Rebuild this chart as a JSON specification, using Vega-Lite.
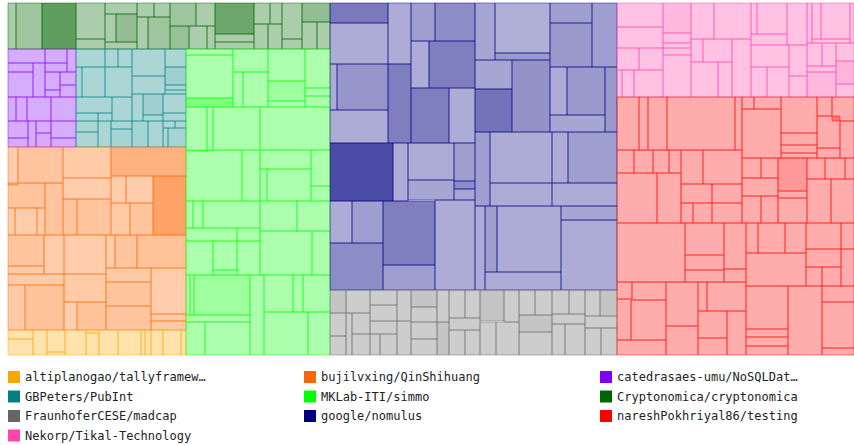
{
  "$schema": "https://vega.github.io/schema/vega-lite/v6.json",
  "width": 846,
  "height": 352,
  "autosize": "none",
  "padding": {"left": 8, "top": 3, "right": 0, "bottom": 90},
  "config": {"view": {"stroke": null}},
  "datasets": {
    "repos": [
      {"g": "A", "repo": "altiplanogao/tallyframework"},
      {"g": "O", "repo": "bujilvxing/QinShihuang"},
      {"g": "P", "repo": "catedrasaes-umu/NoSQLDataEngineering"},
      {"g": "T", "repo": "GBPeters/PubInt"},
      {"g": "G", "repo": "MKLab-ITI/simmo"},
      {"g": "C", "repo": "Cryptonomica/cryptonomica"},
      {"g": "F", "repo": "FraunhoferCESE/madcap"},
      {"g": "N", "repo": "google/nomulus"},
      {"g": "R", "repo": "nareshPokhriyal86/testing"},
      {"g": "K", "repo": "Nekorp/Tikal-Technology"}
    ],
    "cells": [
      {"g":"C","x":0,"x2":8,"y":0,"y2":46,"v":0.5},
      {"g":"C","x":8,"x2":34,"y":0,"y2":46,"v":1.5},
      {"g":"C","x":34,"x2":68,"y":0,"y2":46,"v":6.5},
      {"g":"C","x":68,"x2":97,"y":0,"y2":36,"v":0.5},
      {"g":"C","x":68,"x2":97,"y":36,"y2":46,"v":0.5},
      {"g":"C","x":97,"x2":129,"y":0,"y2":11,"v":0.5},
      {"g":"C","x":97,"x2":108,"y":11,"y2":39,"v":0.5},
      {"g":"C","x":108,"x2":129,"y":11,"y2":39,"v":2.5},
      {"g":"C","x":97,"x2":129,"y":39,"y2":46,"v":0.5},
      {"g":"C","x":129,"x2":146,"y":0,"y2":14,"v":0.5},
      {"g":"C","x":146,"x2":162,"y":0,"y2":14,"v":0.5},
      {"g":"C","x":129,"x2":140,"y":14,"y2":46,"v":0.5},
      {"g":"C","x":140,"x2":162,"y":14,"y2":46,"v":1.5},
      {"g":"C","x":162,"x2":188,"y":0,"y2":23,"v":1.5},
      {"g":"C","x":188,"x2":207,"y":0,"y2":23,"v":0.5},
      {"g":"C","x":162,"x2":181,"y":23,"y2":46,"v":2},
      {"g":"C","x":181,"x2":199,"y":23,"y2":46,"v":0.5},
      {"g":"C","x":199,"x2":207,"y":23,"y2":46,"v":0.5},
      {"g":"C","x":207,"x2":246,"y":0,"y2":31,"v":5.5},
      {"g":"C","x":207,"x2":246,"y":31,"y2":39,"v":0.5},
      {"g":"C","x":207,"x2":246,"y":39,"y2":46,"v":0.5},
      {"g":"C","x":246,"x2":262,"y":0,"y2":21,"v":0.5},
      {"g":"C","x":262,"x2":274,"y":0,"y2":21,"v":0.5},
      {"g":"C","x":246,"x2":260,"y":21,"y2":46,"v":0.5},
      {"g":"C","x":260,"x2":274,"y":21,"y2":46,"v":0.5},
      {"g":"C","x":274,"x2":294,"y":0,"y2":36,"v":0.5},
      {"g":"C","x":274,"x2":294,"y":36,"y2":46,"v":0.5},
      {"g":"C","x":294,"x2":322,"y":0,"y2":19,"v":2.5},
      {"g":"C","x":294,"x2":309,"y":19,"y2":46,"v":0.5},
      {"g":"C","x":309,"x2":322,"y":19,"y2":46,"v":0.5},

      {"g":"P","x":0,"x2":37,"y":46,"y2":60,"v":0.5},
      {"g":"P","x":37,"x2":59,"y":46,"y2":60,"v":0.5},
      {"g":"P","x":59,"x2":68,"y":46,"y2":69,"v":0.5},
      {"g":"P","x":0,"x2":25,"y":60,"y2":69,"v":0.5},
      {"g":"P","x":37,"x2":59,"y":60,"y2":69,"v":0.5},
      {"g":"P","x":0,"x2":25,"y":69,"y2":94,"v":0.5},
      {"g":"P","x":25,"x2":37,"y":60,"y2":94,"v":0.5},
      {"g":"P","x":37,"x2":52,"y":69,"y2":87,"v":0.5},
      {"g":"P","x":52,"x2":68,"y":69,"y2":82,"v":0.5},
      {"g":"P","x":52,"x2":68,"y":82,"y2":94,"v":0.5},
      {"g":"P","x":37,"x2":52,"y":87,"y2":94,"v":0.5},
      {"g":"P","x":0,"x2":8,"y":94,"y2":118,"v":0.5},
      {"g":"P","x":8,"x2":19,"y":94,"y2":118,"v":0.5},
      {"g":"P","x":19,"x2":43,"y":94,"y2":118,"v":0.5},
      {"g":"P","x":43,"x2":68,"y":94,"y2":118,"v":0.5},
      {"g":"P","x":0,"x2":20,"y":118,"y2":135,"v":0.5},
      {"g":"P","x":0,"x2":20,"y":135,"y2":144,"v":0.5},
      {"g":"P","x":20,"x2":28,"y":118,"y2":144,"v":0.5},
      {"g":"P","x":28,"x2":43,"y":118,"y2":130,"v":0.5},
      {"g":"P","x":28,"x2":43,"y":130,"y2":144,"v":0.5},
      {"g":"P","x":43,"x2":68,"y":118,"y2":135,"v":0.5},
      {"g":"P","x":43,"x2":68,"y":135,"y2":144,"v":0.5},

      {"g":"T","x":68,"x2":97,"y":46,"y2":64,"v":0.5},
      {"g":"T","x":68,"x2":74,"y":64,"y2":94,"v":0.5},
      {"g":"T","x":74,"x2":97,"y":64,"y2":94,"v":0.5},
      {"g":"T","x":97,"x2":110,"y":46,"y2":64,"v":0.5},
      {"g":"T","x":110,"x2":124,"y":46,"y2":64,"v":0.5},
      {"g":"T","x":97,"x2":124,"y":64,"y2":94,"v":0.5},
      {"g":"T","x":124,"x2":157,"y":46,"y2":73,"v":0.5},
      {"g":"T","x":124,"x2":157,"y":73,"y2":91,"v":0.5},
      {"g":"T","x":157,"x2":178,"y":46,"y2":64,"v":0.5},
      {"g":"T","x":157,"x2":178,"y":64,"y2":82,"v":1.5},
      {"g":"T","x":157,"x2":178,"y":82,"y2":87,"v":0.5},
      {"g":"T","x":157,"x2":178,"y":87,"y2":91,"v":0.5},
      {"g":"T","x":68,"x2":104,"y":94,"y2":110,"v":0.5},
      {"g":"T","x":68,"x2":90,"y":110,"y2":118,"v":0.5},
      {"g":"T","x":90,"x2":104,"y":110,"y2":118,"v":0.5},
      {"g":"T","x":104,"x2":124,"y":94,"y2":118,"v":0.5},
      {"g":"T","x":124,"x2":135,"y":91,"y2":118,"v":0.5},
      {"g":"T","x":135,"x2":155,"y":91,"y2":112,"v":1.5},
      {"g":"T","x":135,"x2":155,"y":112,"y2":118,"v":0.5},
      {"g":"T","x":155,"x2":178,"y":91,"y2":110,"v":0.5},
      {"g":"T","x":155,"x2":178,"y":110,"y2":118,"v":0.5},
      {"g":"T","x":68,"x2":90,"y":118,"y2":129,"v":0.5},
      {"g":"T","x":68,"x2":90,"y":129,"y2":144,"v":0.5},
      {"g":"T","x":90,"x2":103,"y":118,"y2":144,"v":0.5},
      {"g":"T","x":103,"x2":124,"y":118,"y2":126,"v":0.5},
      {"g":"T","x":103,"x2":124,"y":126,"y2":144,"v":1},
      {"g":"T","x":124,"x2":140,"y":118,"y2":144,"v":1},
      {"g":"T","x":140,"x2":155,"y":118,"y2":144,"v":0.5},
      {"g":"T","x":155,"x2":167,"y":118,"y2":125,"v":0.5},
      {"g":"T","x":167,"x2":178,"y":118,"y2":125,"v":0.5},
      {"g":"T","x":155,"x2":160,"y":125,"y2":144,"v":0.5},
      {"g":"T","x":160,"x2":178,"y":125,"y2":144,"v":1},

      {"g":"O","x":0,"x2":10,"y":144,"y2":182,"v":0.5},
      {"g":"O","x":10,"x2":55,"y":144,"y2":180,"v":1.5},
      {"g":"O","x":55,"x2":103,"y":144,"y2":175,"v":1},
      {"g":"O","x":103,"x2":178,"y":144,"y2":173,"v":4},
      {"g":"O","x":0,"x2":37,"y":180,"y2":205,"v":1.5},
      {"g":"O","x":37,"x2":55,"y":180,"y2":232,"v":1.5},
      {"g":"O","x":55,"x2":103,"y":175,"y2":196,"v":0.5},
      {"g":"O","x":55,"x2":69,"y":196,"y2":232,"v":1.5},
      {"g":"O","x":69,"x2":103,"y":196,"y2":232,"v":1.5},
      {"g":"O","x":103,"x2":118,"y":173,"y2":200,"v":0.5},
      {"g":"O","x":118,"x2":145,"y":173,"y2":200,"v":0.5},
      {"g":"O","x":145,"x2":178,"y":173,"y2":232,"v":6},
      {"g":"O","x":103,"x2":122,"y":200,"y2":232,"v":1},
      {"g":"O","x":122,"x2":145,"y":200,"y2":232,"v":1.5},
      {"g":"O","x":0,"x2":7,"y":205,"y2":232,"v":0.5},
      {"g":"O","x":7,"x2":29,"y":205,"y2":232,"v":0.5},
      {"g":"O","x":29,"x2":37,"y":205,"y2":232,"v":0.5},
      {"g":"O","x":0,"x2":36,"y":232,"y2":263,"v":1.5},
      {"g":"O","x":0,"x2":36,"y":263,"y2":271,"v":1},
      {"g":"O","x":36,"x2":56,"y":232,"y2":271,"v":0.5},
      {"g":"O","x":0,"x2":56,"y":271,"y2":282,"v":1},
      {"g":"O","x":0,"x2":17,"y":282,"y2":327,"v":1},
      {"g":"O","x":17,"x2":56,"y":282,"y2":327,"v":2},
      {"g":"O","x":56,"x2":98,"y":232,"y2":271,"v":0.5},
      {"g":"O","x":56,"x2":98,"y":271,"y2":299,"v":1},
      {"g":"O","x":56,"x2":69,"y":299,"y2":327,"v":0.3},
      {"g":"O","x":69,"x2":98,"y":299,"y2":327,"v":2},
      {"g":"O","x":98,"x2":107,"y":232,"y2":265,"v":0.5},
      {"g":"O","x":107,"x2":129,"y":232,"y2":265,"v":1.5},
      {"g":"O","x":129,"x2":178,"y":232,"y2":265,"v":2},
      {"g":"O","x":98,"x2":143,"y":265,"y2":279,"v":1},
      {"g":"O","x":98,"x2":143,"y":279,"y2":303,"v":1.5},
      {"g":"O","x":98,"x2":143,"y":303,"y2":327,"v":1.5},
      {"g":"O","x":143,"x2":178,"y":265,"y2":311,"v":0.5},
      {"g":"O","x":143,"x2":178,"y":311,"y2":318,"v":1},
      {"g":"O","x":143,"x2":178,"y":318,"y2":327,"v":1},

      {"g":"A","x":0,"x2":25,"y":327,"y2":336,"v":0.5},
      {"g":"A","x":0,"x2":25,"y":336,"y2":352,"v":0.5},
      {"g":"A","x":25,"x2":39,"y":327,"y2":352,"v":0.5},
      {"g":"A","x":39,"x2":57,"y":327,"y2":349,"v":0.5},
      {"g":"A","x":39,"x2":57,"y":349,"y2":352,"v":0.5},
      {"g":"A","x":57,"x2":78,"y":327,"y2":352,"v":0.5},
      {"g":"A","x":78,"x2":91,"y":327,"y2":330,"v":0.5},
      {"g":"A","x":78,"x2":91,"y":330,"y2":352,"v":0.5},
      {"g":"A","x":91,"x2":110,"y":327,"y2":352,"v":0.5},
      {"g":"A","x":110,"x2":133,"y":327,"y2":352,"v":0.5},
      {"g":"A","x":133,"x2":137,"y":327,"y2":352,"v":0.5},
      {"g":"A","x":137,"x2":143,"y":327,"y2":352,"v":0.5},
      {"g":"A","x":143,"x2":155,"y":327,"y2":352,"v":0.5},
      {"g":"A","x":155,"x2":173,"y":327,"y2":352,"v":0.5},
      {"g":"A","x":173,"x2":178,"y":327,"y2":352,"v":0.5},

      {"g":"G","x":178,"x2":225,"y":46,"y2":52,"v":0.5},
      {"g":"G","x":178,"x2":225,"y":52,"y2":95,"v":0.5},
      {"g":"G","x":178,"x2":225,"y":95,"y2":104,"v":4},
      {"g":"G","x":225,"x2":260,"y":46,"y2":69,"v":0.5},
      {"g":"G","x":225,"x2":235,"y":69,"y2":104,"v":0.5},
      {"g":"G","x":235,"x2":260,"y":69,"y2":104,"v":0.5},
      {"g":"G","x":260,"x2":297,"y":46,"y2":78,"v":0.5},
      {"g":"G","x":260,"x2":297,"y":78,"y2":98,"v":1.5},
      {"g":"G","x":260,"x2":297,"y":98,"y2":104,"v":0.5},
      {"g":"G","x":297,"x2":322,"y":46,"y2":85,"v":0.5},
      {"g":"G","x":297,"x2":322,"y":85,"y2":93,"v":0.5},
      {"g":"G","x":297,"x2":322,"y":93,"y2":104,"v":0.5},
      {"g":"G","x":178,"x2":199,"y":104,"y2":148,"v":0.5},
      {"g":"G","x":199,"x2":205,"y":104,"y2":148,"v":0.5},
      {"g":"G","x":205,"x2":252,"y":104,"y2":147,"v":0.5},
      {"g":"G","x":252,"x2":322,"y":104,"y2":147,"v":0.5},
      {"g":"G","x":178,"x2":234,"y":147,"y2":198,"v":0.5},
      {"g":"G","x":234,"x2":252,"y":147,"y2":198,"v":0.5},
      {"g":"G","x":252,"x2":303,"y":147,"y2":166,"v":0.5},
      {"g":"G","x":252,"x2":259,"y":166,"y2":198,"v":0.5},
      {"g":"G","x":259,"x2":303,"y":166,"y2":198,"v":0.5},
      {"g":"G","x":303,"x2":322,"y":147,"y2":183,"v":0.5},
      {"g":"G","x":303,"x2":322,"y":183,"y2":198,"v":0.5},
      {"g":"G","x":178,"x2":185,"y":198,"y2":225,"v":0.5},
      {"g":"G","x":185,"x2":195,"y":198,"y2":225,"v":0.5},
      {"g":"G","x":195,"x2":252,"y":198,"y2":225,"v":0.5},
      {"g":"G","x":178,"x2":229,"y":225,"y2":238,"v":0.5},
      {"g":"G","x":229,"x2":252,"y":225,"y2":238,"v":0.5},
      {"g":"G","x":252,"x2":289,"y":198,"y2":228,"v":0.5},
      {"g":"G","x":289,"x2":322,"y":198,"y2":228,"v":0.5},
      {"g":"G","x":252,"x2":304,"y":228,"y2":272,"v":0.5},
      {"g":"G","x":304,"x2":322,"y":228,"y2":272,"v":0.5},
      {"g":"G","x":178,"x2":205,"y":238,"y2":272,"v":0.5},
      {"g":"G","x":205,"x2":229,"y":238,"y2":267,"v":0.5},
      {"g":"G","x":205,"x2":229,"y":267,"y2":272,"v":0.5},
      {"g":"G","x":229,"x2":252,"y":238,"y2":272,"v":0.5},
      {"g":"G","x":178,"x2":182,"y":272,"y2":312,"v":0.5},
      {"g":"G","x":182,"x2":186,"y":272,"y2":312,"v":0.5},
      {"g":"G","x":186,"x2":242,"y":272,"y2":312,"v":1.5},
      {"g":"G","x":242,"x2":256,"y":272,"y2":352,"v":0.5},
      {"g":"G","x":256,"x2":285,"y":272,"y2":309,"v":0.5},
      {"g":"G","x":285,"x2":295,"y":272,"y2":309,"v":0.5},
      {"g":"G","x":295,"x2":322,"y":272,"y2":309,"v":0.5},
      {"g":"G","x":178,"x2":242,"y":312,"y2":319,"v":0.5},
      {"g":"G","x":178,"x2":197,"y":319,"y2":352,"v":0.5},
      {"g":"G","x":197,"x2":242,"y":319,"y2":352,"v":0.5},
      {"g":"G","x":256,"x2":300,"y":309,"y2":352,"v":0.5},
      {"g":"G","x":300,"x2":322,"y":309,"y2":352,"v":0.5},

      {"g":"N","x":322,"x2":380,"y":0,"y2":20,"v":4.5},
      {"g":"N","x":322,"x2":380,"y":20,"y2":61,"v":0.5},
      {"g":"N","x":322,"x2":329,"y":61,"y2":107,"v":0.5},
      {"g":"N","x":329,"x2":380,"y":61,"y2":107,"v":2.2},
      {"g":"N","x":322,"x2":380,"y":107,"y2":140,"v":0.5},
      {"g":"N","x":380,"x2":403,"y":0,"y2":61,"v":0.5},
      {"g":"N","x":380,"x2":403,"y":61,"y2":140,"v":4},
      {"g":"N","x":403,"x2":427,"y":0,"y2":38,"v":1.5},
      {"g":"N","x":427,"x2":467,"y":0,"y2":38,"v":3},
      {"g":"N","x":403,"x2":421,"y":38,"y2":85,"v":0.5},
      {"g":"N","x":421,"x2":467,"y":38,"y2":85,"v":4},
      {"g":"N","x":403,"x2":441,"y":85,"y2":140,"v":4},
      {"g":"N","x":441,"x2":467,"y":85,"y2":140,"v":0.5},
      {"g":"N","x":467,"x2":487,"y":0,"y2":57,"v":1},
      {"g":"N","x":487,"x2":542,"y":0,"y2":50,"v":0.3},
      {"g":"N","x":487,"x2":542,"y":50,"y2":57,"v":2},
      {"g":"N","x":467,"x2":504,"y":57,"y2":86,"v":1},
      {"g":"N","x":467,"x2":504,"y":86,"y2":129,"v":5},
      {"g":"N","x":504,"x2":542,"y":57,"y2":129,"v":2.5},
      {"g":"N","x":542,"x2":584,"y":0,"y2":20,"v":1.5},
      {"g":"N","x":542,"x2":584,"y":20,"y2":64,"v":2},
      {"g":"N","x":584,"x2":609,"y":0,"y2":64,"v":1.5},
      {"g":"N","x":542,"x2":559,"y":64,"y2":112,"v":0.5},
      {"g":"N","x":559,"x2":597,"y":64,"y2":112,"v":2},
      {"g":"N","x":597,"x2":609,"y":64,"y2":129,"v":2},
      {"g":"N","x":542,"x2":597,"y":112,"y2":129,"v":1},
      {"g":"N","x":322,"x2":385,"y":140,"y2":198,"v":8},
      {"g":"N","x":385,"x2":400,"y":140,"y2":198,"v":0.5},
      {"g":"N","x":400,"x2":446,"y":140,"y2":177,"v":0.5},
      {"g":"N","x":400,"x2":446,"y":177,"y2":197,"v":1},
      {"g":"N","x":446,"x2":467,"y":140,"y2":178,"v":1.5},
      {"g":"N","x":446,"x2":467,"y":178,"y2":186,"v":3},
      {"g":"N","x":446,"x2":467,"y":186,"y2":197,"v":1},
      {"g":"N","x":322,"x2":344,"y":198,"y2":240,"v":0.5},
      {"g":"N","x":344,"x2":375,"y":198,"y2":240,"v":1.5},
      {"g":"N","x":322,"x2":375,"y":240,"y2":287,"v":3},
      {"g":"N","x":375,"x2":427,"y":198,"y2":262,"v":4},
      {"g":"N","x":375,"x2":427,"y":262,"y2":287,"v":1.5},
      {"g":"N","x":427,"x2":467,"y":197,"y2":287,"v":0.5},
      {"g":"N","x":467,"x2":482,"y":129,"y2":203,"v":1.5},
      {"g":"N","x":482,"x2":544,"y":129,"y2":180,"v":0.5},
      {"g":"N","x":544,"x2":560,"y":129,"y2":180,"v":0.5},
      {"g":"N","x":560,"x2":609,"y":129,"y2":180,"v":1.5},
      {"g":"N","x":482,"x2":544,"y":180,"y2":203,"v":0.5},
      {"g":"N","x":544,"x2":609,"y":180,"y2":203,"v":0.5},
      {"g":"N","x":467,"x2":477,"y":203,"y2":287,"v":0.5},
      {"g":"N","x":477,"x2":489,"y":203,"y2":269,"v":1.5},
      {"g":"N","x":489,"x2":553,"y":203,"y2":269,"v":0.5},
      {"g":"N","x":477,"x2":553,"y":269,"y2":287,"v":0.5},
      {"g":"N","x":553,"x2":609,"y":203,"y2":217,"v":1},
      {"g":"N","x":553,"x2":609,"y":217,"y2":287,"v":0.5},

      {"g":"F","x":322,"x2":338,"y":287,"y2":310,"v":1.5},
      {"g":"F","x":322,"x2":338,"y":310,"y2":333,"v":0.5},
      {"g":"F","x":322,"x2":338,"y":333,"y2":352,"v":0.5},
      {"g":"F","x":338,"x2":362,"y":287,"y2":310,"v":0.5},
      {"g":"F","x":338,"x2":344,"y":310,"y2":352,"v":0.5},
      {"g":"F","x":344,"x2":362,"y":310,"y2":331,"v":0.5},
      {"g":"F","x":344,"x2":362,"y":331,"y2":352,"v":0.5},
      {"g":"F","x":362,"x2":389,"y":287,"y2":302,"v":0.5},
      {"g":"F","x":362,"x2":389,"y":302,"y2":318,"v":0.5},
      {"g":"F","x":362,"x2":389,"y":318,"y2":331,"v":0.5},
      {"g":"F","x":362,"x2":372,"y":331,"y2":352,"v":0.5},
      {"g":"F","x":372,"x2":389,"y":331,"y2":352,"v":0.5},
      {"g":"F","x":389,"x2":403,"y":287,"y2":318,"v":0.5},
      {"g":"F","x":389,"x2":403,"y":318,"y2":352,"v":0.5},
      {"g":"F","x":403,"x2":429,"y":287,"y2":304,"v":1.5},
      {"g":"F","x":403,"x2":429,"y":304,"y2":319,"v":0.5},
      {"g":"F","x":403,"x2":429,"y":319,"y2":336,"v":0.5},
      {"g":"F","x":403,"x2":429,"y":336,"y2":352,"v":0.5},
      {"g":"F","x":429,"x2":441,"y":287,"y2":319,"v":0.5},
      {"g":"F","x":429,"x2":441,"y":319,"y2":352,"v":1.5},
      {"g":"F","x":441,"x2":457,"y":287,"y2":315,"v":0.5},
      {"g":"F","x":457,"x2":472,"y":287,"y2":315,"v":0.5},
      {"g":"F","x":441,"x2":472,"y":315,"y2":327,"v":0.5},
      {"g":"F","x":441,"x2":457,"y":327,"y2":352,"v":0.5},
      {"g":"F","x":457,"x2":472,"y":327,"y2":352,"v":0.5},
      {"g":"F","x":472,"x2":496,"y":287,"y2":318,"v":1.5},
      {"g":"F","x":496,"x2":511,"y":287,"y2":319,"v":0.5},
      {"g":"F","x":472,"x2":488,"y":319,"y2":352,"v":0.5},
      {"g":"F","x":488,"x2":511,"y":319,"y2":352,"v":0.5},
      {"g":"F","x":511,"x2":527,"y":287,"y2":312,"v":0.5},
      {"g":"F","x":527,"x2":544,"y":287,"y2":312,"v":0.5},
      {"g":"F","x":511,"x2":544,"y":312,"y2":329,"v":1.5},
      {"g":"F","x":511,"x2":544,"y":329,"y2":352,"v":0.5},
      {"g":"F","x":544,"x2":561,"y":287,"y2":311,"v":0.5},
      {"g":"F","x":561,"x2":577,"y":287,"y2":311,"v":0.5},
      {"g":"F","x":544,"x2":577,"y":311,"y2":321,"v":0.5},
      {"g":"F","x":544,"x2":557,"y":321,"y2":352,"v":0.5},
      {"g":"F","x":557,"x2":577,"y":321,"y2":352,"v":0.5},
      {"g":"F","x":577,"x2":592,"y":287,"y2":313,"v":0.5},
      {"g":"F","x":592,"x2":609,"y":287,"y2":313,"v":1.5},
      {"g":"F","x":577,"x2":609,"y":313,"y2":325,"v":0.5},
      {"g":"F","x":577,"x2":593,"y":325,"y2":352,"v":0.5},
      {"g":"F","x":593,"x2":609,"y":325,"y2":352,"v":0.5},

      {"g":"K","x":609,"x2":655,"y":0,"y2":24,"v":0.5},
      {"g":"K","x":609,"x2":655,"y":24,"y2":45,"v":0.5},
      {"g":"K","x":609,"x2":631,"y":45,"y2":67,"v":0.5},
      {"g":"K","x":631,"x2":655,"y":45,"y2":67,"v":0.5},
      {"g":"K","x":609,"x2":614,"y":67,"y2":94,"v":0.5},
      {"g":"K","x":614,"x2":626,"y":67,"y2":94,"v":0.5},
      {"g":"K","x":626,"x2":655,"y":67,"y2":94,"v":0.5},
      {"g":"K","x":655,"x2":683,"y":0,"y2":30,"v":1.5},
      {"g":"K","x":655,"x2":683,"y":30,"y2":40,"v":0.5},
      {"g":"K","x":655,"x2":683,"y":40,"y2":45,"v":0.5},
      {"g":"K","x":655,"x2":683,"y":45,"y2":52,"v":0.5},
      {"g":"K","x":655,"x2":683,"y":52,"y2":94,"v":0.5},
      {"g":"K","x":683,"x2":706,"y":0,"y2":36,"v":0.5},
      {"g":"K","x":706,"x2":743,"y":0,"y2":36,"v":0.5},
      {"g":"K","x":683,"x2":695,"y":36,"y2":59,"v":0.5},
      {"g":"K","x":695,"x2":724,"y":36,"y2":59,"v":0.5},
      {"g":"K","x":683,"x2":710,"y":59,"y2":94,"v":0.5},
      {"g":"K","x":710,"x2":724,"y":59,"y2":94,"v":0.5},
      {"g":"K","x":724,"x2":743,"y":36,"y2":94,"v":0.5},
      {"g":"K","x":743,"x2":749,"y":0,"y2":31,"v":0.5},
      {"g":"K","x":749,"x2":779,"y":0,"y2":31,"v":0.5},
      {"g":"K","x":743,"x2":779,"y":31,"y2":42,"v":0.5},
      {"g":"K","x":743,"x2":781,"y":42,"y2":64,"v":0.5},
      {"g":"K","x":743,"x2":759,"y":64,"y2":94,"v":0.5},
      {"g":"K","x":759,"x2":781,"y":64,"y2":94,"v":0.5},
      {"g":"K","x":779,"x2":799,"y":0,"y2":42,"v":0.5},
      {"g":"K","x":781,"x2":799,"y":42,"y2":73,"v":0.5},
      {"g":"K","x":781,"x2":799,"y":73,"y2":94,"v":0.5},
      {"g":"K","x":799,"x2":804,"y":0,"y2":40,"v":0.5},
      {"g":"K","x":804,"x2":813,"y":0,"y2":36,"v":0.5},
      {"g":"K","x":813,"x2":842,"y":0,"y2":36,"v":0.5},
      {"g":"K","x":804,"x2":842,"y":36,"y2":40,"v":0.5},
      {"g":"K","x":842,"x2":846,"y":0,"y2":40,"v":0.5},
      {"g":"K","x":799,"x2":814,"y":40,"y2":63,"v":0.5},
      {"g":"K","x":814,"x2":828,"y":40,"y2":63,"v":0.5},
      {"g":"K","x":799,"x2":828,"y":63,"y2":69,"v":0.5},
      {"g":"K","x":799,"x2":828,"y":69,"y2":94,"v":1.5},
      {"g":"K","x":828,"x2":846,"y":40,"y2":58,"v":0.5},
      {"g":"K","x":828,"x2":846,"y":58,"y2":81,"v":2},
      {"g":"K","x":828,"x2":846,"y":81,"y2":94,"v":0.5},

      {"g":"R","x":609,"x2":631,"y":94,"y2":147,"v":0.5},
      {"g":"R","x":631,"x2":640,"y":94,"y2":147,"v":0.5},
      {"g":"R","x":640,"x2":659,"y":94,"y2":147,"v":0.5},
      {"g":"R","x":659,"x2":727,"y":94,"y2":147,"v":0.5},
      {"g":"R","x":727,"x2":734,"y":94,"y2":147,"v":0.5},
      {"g":"R","x":734,"x2":746,"y":94,"y2":106,"v":0.5},
      {"g":"R","x":746,"x2":773,"y":94,"y2":106,"v":0.5},
      {"g":"R","x":734,"x2":773,"y":106,"y2":155,"v":0.5},
      {"g":"R","x":773,"x2":809,"y":94,"y2":130,"v":0.5},
      {"g":"R","x":773,"x2":809,"y":130,"y2":142,"v":0.5},
      {"g":"R","x":773,"x2":809,"y":142,"y2":150,"v":0.5},
      {"g":"R","x":773,"x2":809,"y":150,"y2":155,"v":0.5},
      {"g":"R","x":809,"x2":824,"y":94,"y2":113,"v":0.5},
      {"g":"R","x":824,"x2":846,"y":94,"y2":118,"v":0.5},
      {"g":"R","x":809,"x2":832,"y":113,"y2":145,"v":0.5},
      {"g":"R","x":809,"x2":832,"y":145,"y2":155,"v":0.5},
      {"g":"R","x":832,"x2":846,"y":118,"y2":155,"v":0.5},
      {"g":"R","x":609,"x2":626,"y":147,"y2":170,"v":0.5},
      {"g":"R","x":626,"x2":645,"y":147,"y2":170,"v":0.5},
      {"g":"R","x":645,"x2":661,"y":147,"y2":170,"v":0.5},
      {"g":"R","x":661,"x2":673,"y":147,"y2":170,"v":0.5},
      {"g":"R","x":673,"x2":695,"y":147,"y2":181,"v":0.5},
      {"g":"R","x":695,"x2":734,"y":147,"y2":181,"v":0.5},
      {"g":"R","x":609,"x2":649,"y":170,"y2":220,"v":0.5},
      {"g":"R","x":649,"x2":673,"y":170,"y2":220,"v":0.5},
      {"g":"R","x":673,"x2":704,"y":181,"y2":200,"v":0.5},
      {"g":"R","x":704,"x2":734,"y":181,"y2":200,"v":0.5},
      {"g":"R","x":673,"x2":685,"y":200,"y2":220,"v":0.5},
      {"g":"R","x":685,"x2":704,"y":200,"y2":220,"v":0.5},
      {"g":"R","x":704,"x2":734,"y":200,"y2":220,"v":0.5},
      {"g":"R","x":734,"x2":753,"y":155,"y2":175,"v":0.5},
      {"g":"R","x":753,"x2":770,"y":155,"y2":175,"v":0.5},
      {"g":"R","x":734,"x2":770,"y":175,"y2":193,"v":0.5},
      {"g":"R","x":734,"x2":753,"y":193,"y2":220,"v":0.5},
      {"g":"R","x":753,"x2":770,"y":193,"y2":220,"v":0.5},
      {"g":"R","x":770,"x2":799,"y":155,"y2":188,"v":2},
      {"g":"R","x":770,"x2":799,"y":188,"y2":195,"v":0.5},
      {"g":"R","x":770,"x2":799,"y":195,"y2":220,"v":0.5},
      {"g":"R","x":799,"x2":817,"y":155,"y2":176,"v":0.5},
      {"g":"R","x":817,"x2":837,"y":155,"y2":176,"v":0.5},
      {"g":"R","x":837,"x2":846,"y":155,"y2":176,"v":0.5},
      {"g":"R","x":799,"x2":823,"y":176,"y2":220,"v":0.5},
      {"g":"R","x":823,"x2":846,"y":176,"y2":220,"v":0.5},
      {"g":"R","x":609,"x2":677,"y":220,"y2":279,"v":0.5},
      {"g":"R","x":677,"x2":716,"y":220,"y2":252,"v":0.5},
      {"g":"R","x":677,"x2":716,"y":252,"y2":267,"v":0.5},
      {"g":"R","x":677,"x2":716,"y":267,"y2":279,"v":0.5},
      {"g":"R","x":716,"x2":738,"y":220,"y2":266,"v":0.5},
      {"g":"R","x":716,"x2":738,"y":266,"y2":279,"v":0.5},
      {"g":"R","x":738,"x2":750,"y":220,"y2":250,"v":0.5},
      {"g":"R","x":750,"x2":777,"y":220,"y2":250,"v":0.5},
      {"g":"R","x":777,"x2":798,"y":220,"y2":250,"v":0.5},
      {"g":"R","x":738,"x2":798,"y":250,"y2":283,"v":0.5},
      {"g":"R","x":798,"x2":833,"y":220,"y2":246,"v":0.5},
      {"g":"R","x":833,"x2":846,"y":220,"y2":246,"v":0.5},
      {"g":"R","x":798,"x2":833,"y":246,"y2":264,"v":0.5},
      {"g":"R","x":833,"x2":846,"y":246,"y2":283,"v":0.5},
      {"g":"R","x":798,"x2":814,"y":264,"y2":283,"v":0.5},
      {"g":"R","x":814,"x2":833,"y":264,"y2":283,"v":0.5},
      {"g":"R","x":609,"x2":624,"y":279,"y2":296,"v":0.5},
      {"g":"R","x":624,"x2":658,"y":279,"y2":297,"v":0.5},
      {"g":"R","x":609,"x2":623,"y":296,"y2":337,"v":0.5},
      {"g":"R","x":623,"x2":658,"y":297,"y2":337,"v":0.5},
      {"g":"R","x":609,"x2":658,"y":337,"y2":352,"v":0.5},
      {"g":"R","x":658,"x2":690,"y":279,"y2":323,"v":0.5},
      {"g":"R","x":658,"x2":690,"y":323,"y2":352,"v":0.5},
      {"g":"R","x":690,"x2":699,"y":279,"y2":308,"v":0.5},
      {"g":"R","x":699,"x2":738,"y":279,"y2":308,"v":0.5},
      {"g":"R","x":690,"x2":719,"y":308,"y2":335,"v":0.5},
      {"g":"R","x":690,"x2":719,"y":335,"y2":352,"v":0.5},
      {"g":"R","x":719,"x2":738,"y":308,"y2":352,"v":0.5},
      {"g":"R","x":738,"x2":780,"y":283,"y2":326,"v":0.5},
      {"g":"R","x":738,"x2":780,"y":326,"y2":334,"v":0.5},
      {"g":"R","x":738,"x2":780,"y":334,"y2":343,"v":0.5},
      {"g":"R","x":738,"x2":780,"y":343,"y2":352,"v":0.5},
      {"g":"R","x":780,"x2":814,"y":283,"y2":352,"v":0.5},
      {"g":"R","x":814,"x2":846,"y":283,"y2":299,"v":0.5},
      {"g":"R","x":814,"x2":846,"y":299,"y2":345,"v":0.5},
      {"g":"R","x":814,"x2":846,"y":345,"y2":352,"v":0.5}
    ]
  },
  "data": {"name": "cells"},
  "transform": [
    {"lookup": "g", "from": {"data": {"name": "repos"}, "key": "g", "fields": ["repo"]}}
  ],
  "mark": {"type": "rect", "strokeWidth": 1, "strokeOpacity": 0.45},
  "encoding": {
    "x": {"field": "x", "type": "quantitative", "scale": {"domain": [0, 846], "nice": false, "zero": false}, "axis": null},
    "x2": {"field": "x2"},
    "y": {"field": "y", "type": "quantitative", "scale": {"domain": [0, 352], "nice": false, "zero": false, "reverse": true}, "axis": null},
    "y2": {"field": "y2"},
    "fill": {
      "field": "repo",
      "type": "nominal",
      "scale": {
        "domain": ["altiplanogao/tallyframework", "bujilvxing/QinShihuang", "catedrasaes-umu/NoSQLDataEngineering", "GBPeters/PubInt", "MKLab-ITI/simmo", "Cryptonomica/cryptonomica", "FraunhoferCESE/madcap", "google/nomulus", "nareshPokhriyal86/testing", "Nekorp/Tikal-Technology"],
        "range": ["#ffa500", "#ff6600", "#8000ff", "#008080", "#00ff00", "#006400", "#666666", "#000080", "#ff0000", "#ff44aa"]
      },
      "legend": {
        "title": null,
        "orient": "bottom",
        "direction": "horizontal",
        "columns": 3,
        "gridAlign": "all",
        "columnPadding": 98,
        "rowPadding": 7.5,
        "offset": 16,
        "symbolType": "square",
        "symbolSize": 144,
        "symbolOpacity": 1,
        "symbolStrokeWidth": 0,
        "labelFont": "DejaVu Sans Mono",
        "labelFontSize": 12,
        "labelColor": "#222222",
        "labelLimit": 184,
        "labelOffset": 5
      }
    },
    "stroke": {
      "field": "repo",
      "type": "nominal",
      "scale": {
        "domain": ["altiplanogao/tallyframework", "bujilvxing/QinShihuang", "catedrasaes-umu/NoSQLDataEngineering", "GBPeters/PubInt", "MKLab-ITI/simmo", "Cryptonomica/cryptonomica", "FraunhoferCESE/madcap", "google/nomulus", "nareshPokhriyal86/testing", "Nekorp/Tikal-Technology"],
        "range": ["#ffa500", "#ff6600", "#8000ff", "#008080", "#00ff00", "#006400", "#666666", "#000080", "#ff0000", "#ff44aa"]
      },
      "legend": null
    },
    "fillOpacity": {
      "field": "v",
      "type": "quantitative",
      "scale": {"domain": [0, 10], "range": [0.3, 0.8]},
      "legend": null
    }
  }
}
